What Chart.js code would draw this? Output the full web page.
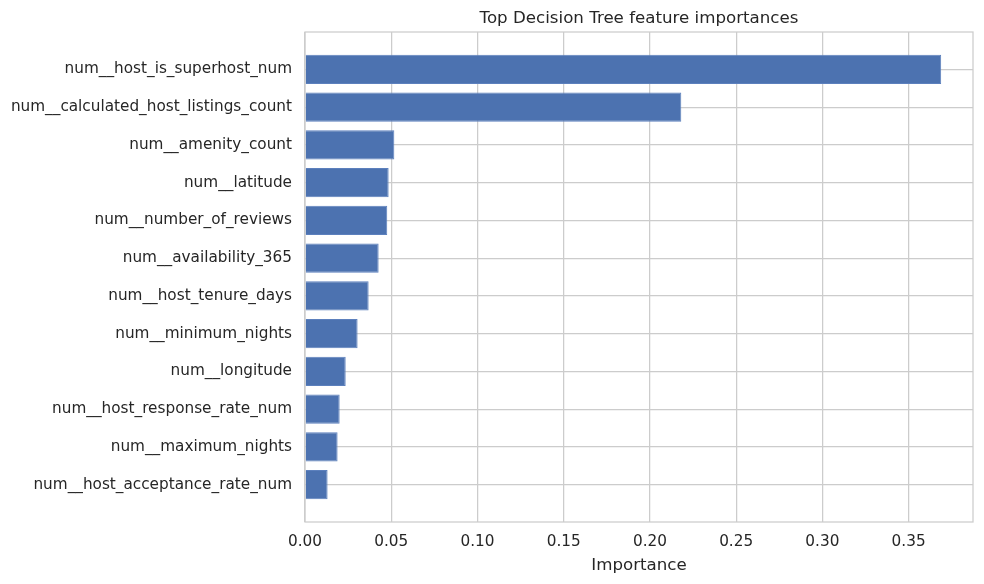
<!DOCTYPE html>
<html>
<head>
<meta charset="utf-8">
<script src="https://cdn.jsdelivr.net/npm/chart.js@4"></script>
<style>
    html, body { margin: 0; padding: 0; background: #fff; }
    #wrap { width: 984px; height: 584px; }
</style>
</head>
<body>
<div id="wrap"><canvas id="chart"></canvas></div>
<script>
// features listed top to bottom as in the picture
const features = [
    'num__host_is_superhost_num',
    'num__calculated_host_listings_count',
    'num__amenity_count',
    'num__latitude',
    'num__number_of_reviews',
    'num__availability_365',
    'num__host_tenure_days',
    'num__minimum_nights',
    'num__longitude',
    'num__host_response_rate_num',
    'num__maximum_nights',
    'num__host_acceptance_rate_num'
];
const importances = [0.3689, 0.2182, 0.0518, 0.0485, 0.0477, 0.0427, 0.0369, 0.0305, 0.0236, 0.0201, 0.0189, 0.0131];
const xTicks = [0, 0.05, 0.10, 0.15, 0.20, 0.25, 0.30, 0.35];

const TEXT = '#262626';
const GRID = '#cccccc';
const FONT = "'DejaVu Sans', sans-serif";

// matplotlib-like 5% margins
const xMax = Math.max(...importances) * 1.05;
const yMin = -0.4 - 0.59;
const yMax = features.length - 1 + 0.4 + 0.59;

// light grey frame round the plot, like the seaborn spines
const framePlugin = {
    id: 'frame',
    afterDraw(chart) {
        const a = chart.chartArea;
        const ctx = chart.ctx;
        ctx.save();
        ctx.strokeStyle = GRID;
        ctx.lineWidth = 1.25;
        ctx.strokeRect(a.left, a.top, a.right - a.left, a.bottom - a.top);
        ctx.restore();
    }
};

const ctx = document.getElementById('chart').getContext('2d');
new Chart(ctx, {
    type: 'bar',
    data: {
        datasets: [{
            data: importances.map((v, i) => ({ x: v, y: i })),
            backgroundColor: '#4c72b0',
            borderColor: '#5c80bd',
            borderWidth: 1,
            barPercentage: 0.78,
            categoryPercentage: 1
        }]
    },
    options: {
        indexAxis: 'y',
        responsive: true,
        maintainAspectRatio: false,
        animation: false,
        layout: { padding: { left: 0, right: 11, top: 0, bottom: 0 } },
        plugins: {
            legend: { display: false },
            tooltip: { enabled: false },
            title: {
                display: true,
                text: 'Top Decision Tree feature importances',
                color: TEXT,
                fullSize: false,
                font: { family: FONT, size: 16.67, weight: 'normal' },
                padding: { top: 9, bottom: 3 }
            }
        },
        scales: {
            x: {
                type: 'linear',
                min: 0,
                max: xMax,
                afterBuildTicks: (scale) => {
                    scale.ticks = xTicks.map(v => ({ value: v }));
                },
                afterFit: (scale) => { scale.height = 62; },
                ticks: {
                    color: TEXT,
                    font: { family: FONT, size: 15.28 },
                    padding: 11,
                    callback: (v) => Number(v).toFixed(2)
                },
                grid: { color: GRID, lineWidth: 1.25, tickLength: 0 },
                border: { display: false },
                title: {
                    display: true,
                    text: 'Importance',
                    color: TEXT,
                    font: { family: FONT, size: 16.67 },
                    padding: { top: 0, bottom: 8 }
                }
            },
            y: {
                type: 'linear',
                reverse: true,
                offset: false,
                min: yMin,
                max: yMax,
                afterBuildTicks: (scale) => {
                    scale.ticks = features.map((_, i) => ({ value: i }));
                },
                afterFit: (scale) => { scale.width = 305; },
                ticks: {
                    color: TEXT,
                    font: { family: FONT, size: 15.28 },
                    padding: 13,
                    callback: (v) => features[v]
                },
                grid: { color: GRID, lineWidth: 1.25, tickLength: 0, offset: false },
                border: { display: false }
            }
        }
    },
    plugins: [framePlugin]
});
</script>
</body>
</html>
